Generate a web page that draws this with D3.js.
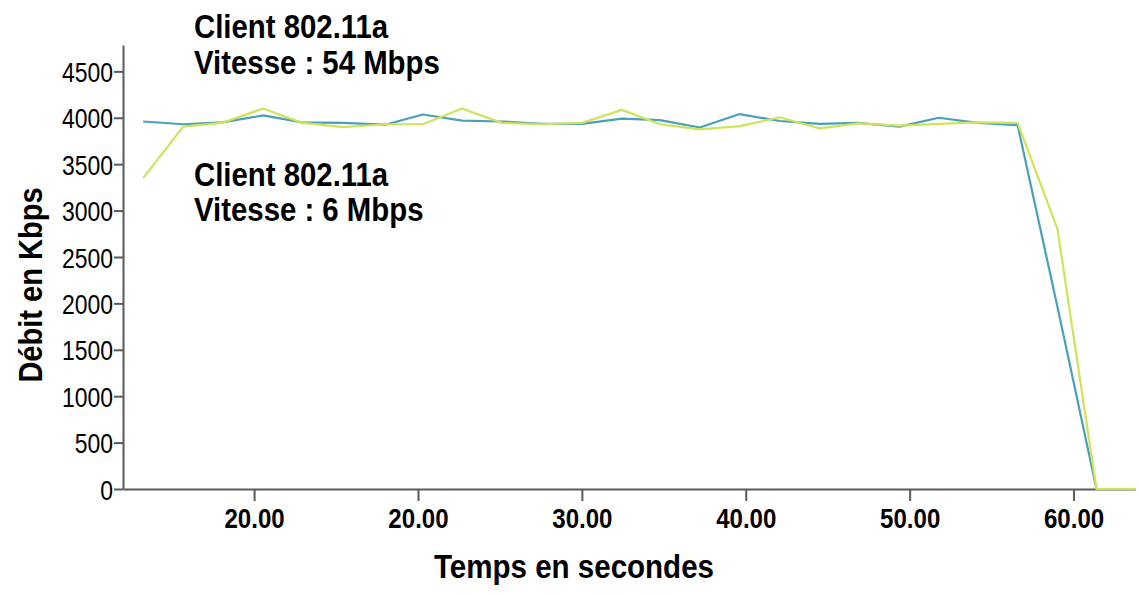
<!DOCTYPE html>
<html>
<head>
<meta charset="utf-8">
<script src="https://cdn.jsdelivr.net/npm/d3@7"></script>
<style>
  html, body { margin: 0; padding: 0; background: #fff; }
  svg { display: block; }
  text { font-family: "Liberation Sans", Arial, sans-serif; fill: #000; }
</style>
</head>
<body>
<svg id="chart" width="1139" height="594"></svg>
<script>
// ---- data ----
const times = [3.23, 5.67, 8.05, 10.55, 12.93, 15.43, 17.99, 20.30, 22.68, 25.12, 27.56, 30.00, 32.44,
               34.76, 37.20, 39.63, 42.07, 44.51, 46.83, 49.39, 51.77, 54.15, 56.59, 59.02, 61.40, 63.75];
const client54 = [3960, 3930, 3950, 4025, 3950, 3945, 3925, 4035, 3970, 3960, 3935, 3935, 3990,
                  3975, 3895, 4040, 3965, 3935, 3945, 3905, 4000, 3945, 3920, 1960, 0, 0];
const client6  = [3350, 3905, 3945, 4100, 3945, 3900, 3930, 3930, 4100, 3945, 3930, 3945, 4085,
                  3930, 3875, 3910, 4005, 3885, 3940, 3915, 3935, 3950, 3945, 2800, 0, 0];
const xTickValues = [10, 20, 30, 40, 50, 60];
const xTickLabels = ["20.00", "20.00", "30.00", "40.00", "50.00", "60.00"];
const yTickValues = [0, 500, 1000, 1500, 2000, 2500, 3000, 3500, 4000, 4500];
const annotations = [
  ["Client 802.11a", "Vitesse : 54 Mbps"],
  ["Client 802.11a", "Vitesse : 6 Mbps"]
];
const xTitle = "Temps en secondes";
const yTitle = "Débit en Kbps";

// ---- layout ----
(function () {
const svg = d3.select("#chart");
const mLeft = 123, mRight = 1135, mBottom = 489, mTop = 45;
const x = d3.scaleLinear().domain([2.0, 63.75]).range([mLeft, mRight]);
const y = d3.scaleLinear().domain([0, 4784]).range([mBottom, mTop]);
const axisColor = "#5a5a5a";

// y axis
const gy = svg.append("g").attr("transform", `translate(${mLeft},0)`)
  .call(d3.axisLeft(y).tickValues(yTickValues).tickFormat(d3.format("d"))
        .tickSize(9).tickSizeOuter(0).tickPadding(0));
gy.select(".domain").attr("stroke", axisColor).attr("stroke-width", 2);
gy.selectAll(".tick line").attr("stroke", axisColor).attr("stroke-width", 2);
gy.selectAll(".tick text")
  .attr("font-family", "'Liberation Sans', Arial, sans-serif")
  .attr("font-size", 28).attr("fill", "#111")
  .attr("x", -10 / 0.82).attr("dy", "0.36em")
  .attr("transform", "scale(0.82,1)");

// x axis
const gx = svg.append("g").attr("transform", `translate(0,${mBottom})`)
  .call(d3.axisBottom(x).tickValues(xTickValues).tickFormat((d, i) => xTickLabels[i])
        .tickSize(12).tickSizeOuter(0).tickPadding(0));
gx.select(".domain").attr("stroke", axisColor).attr("stroke-width", 2);
gx.selectAll(".tick line").attr("stroke", axisColor).attr("stroke-width", 2);
gx.selectAll(".tick text")
  .attr("font-family", "'Liberation Sans', Arial, sans-serif")
  .attr("font-size", 28).attr("font-weight", "bold").attr("fill", "#111")
  .attr("y", 39).attr("dy", null)
  .attr("transform", "scale(0.86,1)");

// lines
const line = d3.line().x((d, i) => x(times[i])).y(d => y(d));
svg.append("path").datum(client54)
  .attr("d", line).attr("fill", "none")
  .attr("stroke", "#4a9fbb").attr("stroke-width", 2.2).attr("stroke-linejoin", "round");
svg.append("path").datum(client6)
  .attr("d", line).attr("fill", "none")
  .attr("stroke", "#cfe25a").attr("stroke-width", 2.2).attr("stroke-linejoin", "round");

// annotations
const annPos = [[194, 38, 74], [194, 186, 221]];
annotations.forEach((lines, k) => {
  const [ax, y1, y2] = annPos[k];
  [y1, y2].forEach((yy, j) => {
    svg.append("g").attr("transform", `translate(${ax},${yy}) scale(0.89,1)`)
      .append("text").attr("font-size", 33).attr("font-weight", "bold")
      .text(lines[j]);
  });
});

// axis titles
svg.append("g").attr("transform", `translate(574,578) scale(0.895,1)`)
  .append("text").attr("text-anchor", "middle").attr("font-size", 33).attr("font-weight", "bold")
  .text(xTitle);
svg.append("g").attr("transform", `translate(42,285) rotate(-90) scale(0.88,1)`)
  .append("text").attr("text-anchor", "middle").attr("font-size", 33).attr("font-weight", "bold")
  .text(yTitle);
})();
</script>
</body>
</html>
